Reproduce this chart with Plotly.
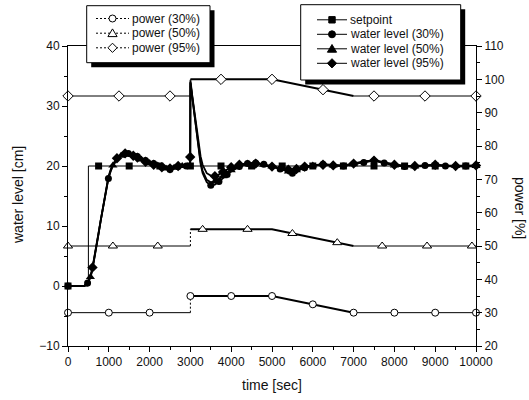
import plotly.graph_objects as go

# ---------------- data ----------------
time_wl = [0, 250, 400, 480, 550, 600, 650, 700, 750, 800,
           850, 900, 950, 990, 1050, 1100, 1200, 1300, 1400, 1480,
           1600, 1700, 1800, 1900, 2000, 2100, 2200, 2300, 2400, 2500,
           2600, 2700, 2800, 2900, 2990, 2995, 3000, 3050, 3100, 3150,
           3200, 3250, 3300, 3400, 3500, 3600, 3700, 3800, 3900, 4000,
           4200, 4400, 4600, 4800, 5000, 5200, 5400, 5500, 5600, 5800,
           6000, 6250, 6500, 6750, 7000, 7250, 7500, 7750, 8000, 8250,
           8500, 8750, 9000, 9250, 9500, 9750, 10000]

wl_30 = [0, 0, 0, 0.5, 1.4, 2.8, 4.6, 6.6, 8.7, 10.8,
         12.8, 14.7, 16.5, 17.9, 19.2, 20.0, 21.1, 21.7, 22.0, 22.1,
         21.9, 21.6, 21.2, 20.9, 20.6, 20.4, 20.2, 19.9, 19.6, 19.4,
         19.6, 19.9, 20.0, 20.0, 20.0, 20.0, 34.0, 31.2, 28.4, 25.4,
         22.6, 20.3, 18.8, 17.3, 16.8, 16.9, 17.4, 18.0, 18.6, 19.1,
         19.9, 20.4, 20.5, 20.3, 20.0, 19.5, 19.0, 18.8, 19.1, 19.7,
         20.1, 20.3, 20.2, 20.0, 20.3, 20.6, 20.9, 20.5, 20.1, 19.9,
         19.9, 20.1, 20.2, 20.0, 19.9, 20.0, 20.0]

wl_50 = [0, 0, 0, 0.5, 1.5, 2.9, 4.7, 6.7, 8.8, 10.9,
         12.9, 14.8, 16.6, 18.0, 19.3, 20.1, 21.1, 21.7, 22.0, 22.0,
         21.8, 21.5, 21.1, 20.8, 20.5, 20.3, 20.1, 19.8, 19.6, 19.5,
         19.7, 19.9, 20.0, 20.0, 20.0, 20.0, 33.8, 31.0, 28.3, 25.5,
         22.9, 20.7, 19.2, 17.7, 17.3, 17.4, 17.8, 18.3, 18.8, 19.3,
         20.0, 20.4, 20.4, 20.2, 19.9, 19.5, 19.1, 19.1, 19.3, 19.8,
         20.1, 20.2, 20.1, 20.0, 20.3, 20.7, 21.0, 20.6, 20.1, 20.0,
         19.9, 20.0, 20.2, 20.1, 20.0, 19.9, 20.0]

wl_95 = [0, 0, 0, 0.6, 1.6, 3.1, 5.0, 7.0, 9.0, 11.1,
         13.1, 15.0, 16.8, 18.2, 19.5, 20.3, 21.3, 21.8, 22.1, 22.0,
         21.7, 21.4, 21.0, 20.7, 20.4, 20.2, 20.0, 19.8, 19.7, 19.6,
         19.8, 20.0, 20.0, 20.1, 20.1, 21.5, 34.3, 31.5, 28.8, 26.0,
         23.6, 21.6, 20.2, 18.8, 18.4, 18.3, 18.6, 19.0, 19.4, 19.8,
         20.2, 20.5, 20.4, 20.2, 19.9, 19.6, 19.4, 19.4, 19.5, 19.9,
         20.1, 20.2, 20.1, 20.1, 20.4, 20.8, 20.9, 20.6, 20.2, 20.0,
         20.0, 20.1, 20.2, 20.0, 20.0, 20.0, 20.1]

# sample times at which symbols are shown (subset of time_wl)
mk_time_30 = [0, 480, 990, 1480, 1700, 1900, 2100, 2300, 2500, 2700, 2900,
              3500, 3700, 3900, 4200, 4400, 4600, 4800, 5200, 5500, 5800,
              6250, 6750, 7250, 7750, 8250, 8750, 9250, 9750]
mk_time_50 = [550, 1100, 1300, 1800, 2000, 2200, 2400, 2600, 2800,
              3600, 3800, 4000, 4400, 4800, 5000, 5400, 5600, 6000, 6500,
              7000, 7500, 8000, 8500, 9000, 9500, 10000]
mk_time_95 = [600, 1200, 1400, 1600, 1700, 1900, 2100, 2300, 2500, 2700, 2995,
              3600, 3800, 4000, 4200, 4600, 5000, 5400, 5600, 5800, 6250, 6500,
              7000, 7500, 8000, 8500, 9000, 9500, 10000]

sp_time = [0, 500, 500, 10000]
sp_val = [0, 0, 20, 20]
sp_mk_time = [0, 750, 1500, 2250, 3000, 3750, 4500, 5250, 6000, 6750, 7500, 8250, 9000, 9750]
sp_mk_val = [0, 20, 20, 20, 20, 20, 20, 20, 20, 20, 20, 20, 20, 20]

# power schedules [%]
pw_time = [0, 3000, 3000, 5000, 7000, 10000]
pw_30 = [30, 30, 35, 35, 30, 30]
pw_50 = [50, 50, 55, 55, 50, 50]
pw_95 = [95, 95, 100, 100, 95, 95]

pw_mk_time_30 = [0, 1000, 2000, 3000, 4000, 5000, 6000, 7000, 8000, 9000, 10000]
pw_mk_30 = [30, 30, 30, 35, 35, 35, 32.5, 30, 30, 30, 30]
pw_mk_time_50 = [0, 1100, 2200, 3300, 4400, 5500, 6600, 7700, 8800, 9900]
pw_mk_50 = [50, 50, 50, 55, 55, 53.75, 51, 50, 50, 50]
pw_mk_time_95 = [0, 1250, 2500, 3750, 5000, 6250, 7500, 8750, 10000]
pw_mk_95 = [95, 95, 95, 100, 100, 96.9, 95, 95, 95]

# ---------------- figure ----------------
FONT = "Liberation Sans, Arial, Helvetica, sans-serif"
fig = go.Figure()

def add_power(vals, mk_t, mk_v, symbol, size):
    # thin pre-step segment
    fig.add_trace(go.Scatter(x=pw_time[0:2], y=vals[0:2], yaxis="y2", mode="lines",
                             line=dict(color="black", width=1), cliponaxis=False))
    # dotted step
    fig.add_trace(go.Scatter(x=pw_time[1:3], y=vals[1:3], yaxis="y2", mode="lines",
                             line=dict(color="black", width=1, dash="2px,2px"), cliponaxis=False))
    # raised / ramp segment
    fig.add_trace(go.Scatter(x=pw_time[2:5], y=vals[2:5], yaxis="y2", mode="lines",
                             line=dict(color="black", width=2), cliponaxis=False))
    # final segment
    fig.add_trace(go.Scatter(x=pw_time[4:6], y=vals[4:6], yaxis="y2", mode="lines",
                             line=dict(color="black", width=1), cliponaxis=False))
    fig.add_trace(go.Scatter(x=mk_t, y=mk_v, yaxis="y2", mode="markers",
                             marker=dict(symbol=symbol, size=size, color="white",
                                         line=dict(color="black", width=1)),
                             cliponaxis=False))

add_power(pw_30, pw_mk_time_30, pw_mk_30, "circle", 7)
add_power(pw_50, pw_mk_time_50, pw_mk_50, "triangle-up", 8)
add_power(pw_95, pw_mk_time_95, pw_mk_95, "diamond", 8)

# setpoint
fig.add_trace(go.Scatter(x=sp_time, y=sp_val, mode="lines",
                         line=dict(color="black", width=1), cliponaxis=False))
fig.add_trace(go.Scatter(x=sp_mk_time, y=sp_mk_val, mode="markers",
                         marker=dict(symbol="square", size=7, color="black"), cliponaxis=False))

def add_level(vals, mk_t, symbol, size):
    lookup = dict(zip(time_wl, vals))
    fig.add_trace(go.Scatter(x=time_wl, y=vals, mode="lines",
                             line=dict(color="black", width=1.8), cliponaxis=False))
    fig.add_trace(go.Scatter(x=mk_t, y=[lookup[t] for t in mk_t], mode="markers",
                             marker=dict(symbol=symbol, size=size, color="black",
                                         line=dict(color="black", width=0)),
                             cliponaxis=False))

add_level(wl_30, mk_time_30, "circle", 7)
add_level(wl_50, mk_time_50, "triangle-up", 8)
add_level(wl_95, mk_time_95, "diamond", 8)

# ---------------- layout geometry ----------------
L, R, T, B = 68, 476, 46, 346
W, H = R - L, B - T

def px(x):
    return (x - L) / W

def py(y):
    return (B - y) / H

shapes = []
annotations = []

def legend_box(x0, y0, x1, y1, off=4.5):
    shapes.append(dict(type="rect", xref="paper", yref="paper",
                       x0=px(x0 + off), x1=px(x1 + off), y0=py(y0 + off), y1=py(y1 + off),
                       fillcolor="black", line=dict(width=0), layer="above"))
    shapes.append(dict(type="rect", xref="paper", yref="paper",
                       x0=px(x0), x1=px(x1), y0=py(y0), y1=py(y1),
                       fillcolor="white", line=dict(color="black", width=1), layer="above"))

def glyph(kind, cx, cy, filled):
    fill = "black" if filled else "white"
    base = dict(xref="paper", yref="paper", xsizemode="pixel", ysizemode="pixel",
                xanchor=px(cx), yanchor=py(cy), fillcolor=fill,
                line=dict(color="black", width=1), layer="above")
    if kind == "circle":
        base.update(type="circle", x0=-3.5, x1=3.5, y0=-3.5, y1=3.5)
    elif kind == "square":
        base.update(type="rect", x0=-3.2, x1=3.2, y0=-3.2, y1=3.2)
    elif kind == "triangle":
        base.update(type="path", path="M0,4.3 L4.6,-3.4 L-4.6,-3.4 Z")
    else:
        base.update(type="path", path="M0,4.6 L4.6,0 L0,-4.6 L-4.6,0 Z")
    shapes.append(base)

def legend_row(kind, filled, dashed, lx0, lx1, cy, text):
    shapes.append(dict(type="line", xref="paper", yref="paper",
                       x0=px(lx0), x1=px(lx1), y0=py(cy), y1=py(cy),
                       line=dict(color="black", width=1, dash="2px,2px" if dashed else "solid"),
                       layer="above"))
    glyph(kind, (lx0 + lx1) / 2, cy, filled)
    annotations.append(dict(text=text, xref="paper", yref="paper", x=px(lx1 + 1), y=py(cy),
                            xanchor="left", yanchor="middle", showarrow=False,
                            font=dict(size=12, family=FONT, color="#111")))

# legend 1 (power)
legend_box(86.7, 5.7, 210, 62.7)
legend_row("circle", False, True, 96, 129, 18.5, "power (30%)")
legend_row("triangle", False, True, 96, 129, 33.2, "power (50%)")
legend_row("diamond", False, True, 96, 129, 47.8, "power (95%)")

# legend 2 (water level)
legend_box(300.7, 4.7, 460.7, 80)
legend_row("square", True, False, 317, 347, 19.8, "setpoint")
legend_row("circle", True, False, 317, 347, 34.3, "water level (30%)")
legend_row("triangle", True, False, 317, 347, 48.8, "water level (50%)")
legend_row("diamond", True, False, 317, 347, 63.3, "water level (95%)")

# axis titles
annotations.append(dict(text="water level [cm]", xref="paper", yref="paper",
                        x=px(18), y=py(195), textangle=-90, showarrow=False,
                        xanchor="center", yanchor="middle",
                        font=dict(size=14, family=FONT, color="#111")))
annotations.append(dict(text="power [%]", xref="paper", yref="paper",
                        x=px(520), y=py(208), textangle=90, showarrow=False,
                        xanchor="center", yanchor="middle",
                        font=dict(size=14, family=FONT, color="#111")))
annotations.append(dict(text="time [sec]", xref="paper", yref="paper",
                        x=px(272), y=py(385), showarrow=False,
                        xanchor="center", yanchor="middle",
                        font=dict(size=14, family=FONT, color="#111")))

axis_common = dict(showgrid=False, zeroline=False, showline=True, linecolor="black",
                   linewidth=1, ticks="outside", ticklen=5, tickwidth=1, tickcolor="black",
                   tickformat="d",
                   tickfont=dict(size=12, family=FONT, color="#111"))

fig.update_layout(
    width=529, height=400,
    margin=dict(l=L, r=529 - R, t=T, b=400 - B),
    paper_bgcolor="white", plot_bgcolor="white",
    showlegend=False,
    font=dict(family=FONT, size=12, color="#111"),
    xaxis=dict(range=[0, 10000], dtick=1000, tick0=0, mirror=True,
               minor=dict(ticks="outside", ticklen=3, dtick=500, tickcolor="black"),
               **axis_common),
    yaxis=dict(range=[-10, 40], dtick=10, tick0=0,
               minor=dict(ticks="outside", ticklen=3, dtick=5, tickcolor="black"),
               **axis_common),
    yaxis2=dict(range=[20, 110], dtick=10, tick0=0, overlaying="y", side="right", anchor="x",
                minor=dict(ticks="outside", ticklen=3, dtick=5, tickcolor="black"),
                **axis_common),
    shapes=shapes,
    annotations=annotations,
)

fig.write_html("out.html")
